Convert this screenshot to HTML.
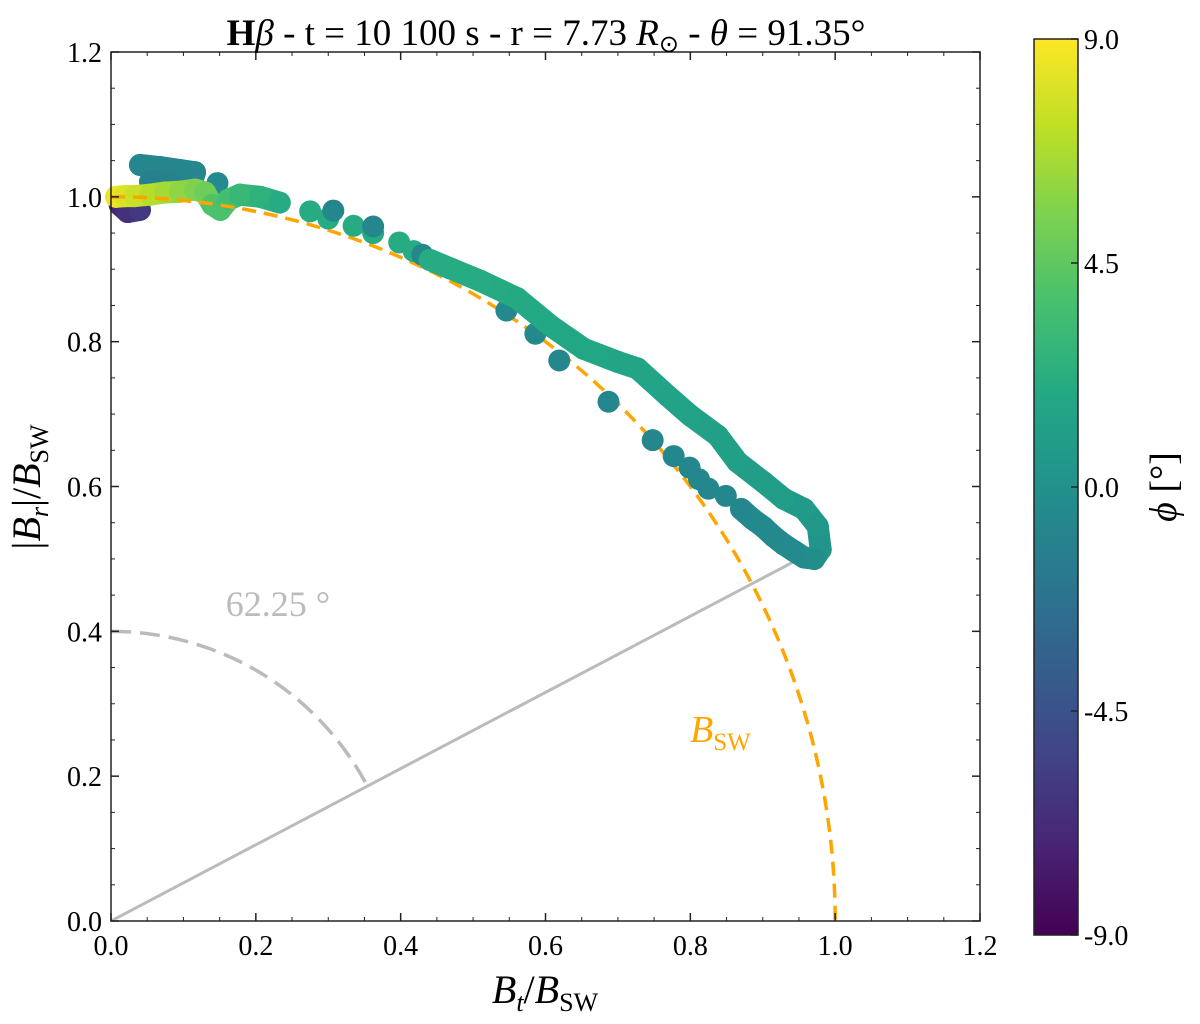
<!DOCTYPE html>
<html><head><meta charset="utf-8"><style>
body{margin:0;background:#fff;width:1200px;height:1019px;overflow:hidden}
svg text{font-family:"Liberation Serif",serif}
</style></head><body>
<svg id="chart" width="1200" height="1019" viewBox="0 0 1200 1019">
<defs><linearGradient id="vg" x1="0" y1="1" x2="0" y2="0">
<stop offset="0" stop-color="#440154"/><stop offset="0.1" stop-color="#482475"/><stop offset="0.2" stop-color="#414487"/><stop offset="0.3" stop-color="#355f8d"/><stop offset="0.4" stop-color="#2a788e"/><stop offset="0.5" stop-color="#21918c"/><stop offset="0.6" stop-color="#22a884"/><stop offset="0.7" stop-color="#44bf70"/><stop offset="0.8" stop-color="#7ad151"/><stop offset="0.9" stop-color="#bddf26"/><stop offset="1" stop-color="#fde725"/></linearGradient></defs>
<g id="plot"></g>
<text x="546" y="45" font-size="37" text-anchor="middle"><tspan font-weight="bold">H</tspan><tspan font-style="italic">β</tspan> - t = 10 100 s - r = 7.73 <tspan font-style="italic">R</tspan><tspan font-size="24" dy="7">⊙</tspan><tspan dy="-7"> - </tspan><tspan font-style="italic">θ</tspan> = 91.35°</text>
<text x="545" y="1003" font-size="40" text-anchor="middle"><tspan font-style="italic">B</tspan><tspan font-style="italic" font-size="26" dy="8">t</tspan><tspan dy="-8">/</tspan><tspan font-style="italic">B</tspan><tspan font-size="26" dy="8">SW</tspan></text>
<text transform="translate(40,487) rotate(-90)" font-size="40" text-anchor="middle">|<tspan font-style="italic">B</tspan><tspan font-style="italic" font-size="26" dy="8">r</tspan><tspan dy="-8">|/</tspan><tspan font-style="italic">B</tspan><tspan font-size="26" dy="8">SW</tspan></text>
<rect x="1034" y="39" width="44" height="896" fill="url(#vg)" stroke="#222" stroke-width="1.5"/>
<text transform="translate(1176,487) rotate(-90)" font-size="38" text-anchor="middle"><tspan font-style="italic">ϕ</tspan> [°]</text>
<g id="cbticks"></g>
</svg>
<script>
const xTicks=[0.0,0.2,0.4,0.6,0.8,1.0,1.2];
const yTicks=[0.0,0.2,0.4,0.6,0.8,1.0,1.2];
const cbTicks=[9.0,4.5,0.0,-4.5,-9.0];
// path: x, y, phi
const startX=[0.012,0.023,0.040,0.007,0.019,0.033,0.054,0.075,0.095,0.116,0.130,0.140,0.151,0.162,0.178,0.206,0.233];
const startY=[0.989,0.979,0.982,1.000,1.001,1.001,1.003,1.006,1.007,1.010,1.006,0.989,0.982,0.996,1.003,1.000,0.992];
const startP=[-7,-6.5,-6,8.5,8,7.5,7,6.5,6,5.5,5,4,3.8,3.5,3,2.5,2];
const topX=[0.040,0.068,0.095,0.116,0.113];
const topY=[1.044,1.041,1.037,1.034,1.024];
const topP=[-0.8,-0.8,-0.8,-0.8,-0.8];
const midX=[0.054,0.081,0.113];
const midY=[1.021,1.023,1.024];
const midP=[-1.2,-1.0,-0.9];
const upX=[0.440,0.469,0.510,0.561,0.607,0.653,0.700,0.727,0.769,0.800,0.838,0.865,0.901,0.929,0.957,0.976,0.980,0.971];
const upY=[0.913,0.901,0.884,0.860,0.822,0.790,0.772,0.763,0.725,0.698,0.670,0.634,0.606,0.583,0.569,0.545,0.513,0.500];
const upP=[2,2,2,1.9,1.8,1.7,1.6,1.5,1.4,1.3,1.2,1.1,1.0,0.9,0.7,0.5,0.2,-0.2];
const lowX=[0.971,0.957,0.943,0.929,0.915,0.901,0.886,0.870];
const lowY=[0.500,0.502,0.511,0.520,0.531,0.544,0.555,0.569];
const lowP=[-0.2,-0.4,-0.5,-0.5,-0.6,-0.6,-0.6,-0.7];
const dotX=[0.275,0.300,0.335,0.362,0.398,0.418,0.147,0.307,0.362,0.430,0.546,0.586,0.619,0.687,0.748,0.777,0.799,0.812,0.825,0.849];
const dotY=[0.980,0.970,0.960,0.950,0.937,0.925,1.019,0.981,0.959,0.920,0.843,0.811,0.774,0.717,0.664,0.642,0.626,0.610,0.597,0.587];
const dotP=[2,2,2,2,2,2,-0.5,-0.8,-0.8,-0.8,-0.6,-0.6,-0.7,-0.7,-0.7,-0.7,-0.7,-0.7,-0.7,-0.7];
const angleDeg=62.25, arcR=0.4, lineEndX=0.98;

const X0=111,X1=980,Y0=921,Y1=52;
const sx=v=>X0+v/1.2*(X1-X0), sy=v=>Y0-v/1.2*(Y0-Y1);
const CB0=935,CB1=39, cy=v=>CB0-(v+9)/18*(CB0-CB1);
const vs=[[68,1,84],[72,36,117],[65,68,135],[53,95,141],[42,120,142],[33,145,140],[34,168,132],[68,191,112],[122,209,81],[189,223,38],[253,231,37]];
function vir(p){let t=Math.max(0,Math.min(1,(p+9)/18))*10,i=Math.min(9,Math.floor(t)),f=t-i;const a=vs[i],b=vs[i+1];return `rgb(${a.map((c,k)=>Math.round(c+(b[k]-c)*f)).join(',')})`;}
const NS='http://www.w3.org/2000/svg';
const g=document.getElementById('plot');
function mk(tag,at,parent){const e=document.createElementNS(NS,tag);for(const k in at)e.setAttribute(k,at[k]);(parent||g).appendChild(e);return e;}
mk('rect',{x:X0,y:Y1,width:X1-X0,height:Y0-Y1,fill:'#fff'});
let e=mk('line',{x1:sx(0),y1:sy(0),x2:sx(lineEndX),y2:sy(lineEndX*Math.tan((90-angleDeg)*Math.PI/180)),stroke:'#bbb','stroke-width':3});


let a1=(90-angleDeg)*Math.PI/180;
e=mk('path',{d:`M${sx(0)},${sy(arcR)} A${sx(arcR)-sx(0)},${sy(0)-sy(arcR)} 0 0 1 ${sx(arcR*Math.cos(a1))},${sy(arcR*Math.sin(a1))}`,fill:'none',stroke:'#bbb','stroke-width':3.5,'stroke-dasharray':'20,9'});


e=mk('text',{x:278,y:616,'font-size':36,fill:'#bbb','text-anchor':'middle'});e.textContent=angleDeg.toFixed(2)+' °';


e=mk('path',{d:`M${sx(0)},${sy(1)} A${sx(1)-sx(0)},${sy(0)-sy(1)} 0 0 1 ${sx(1)},${sy(0)}`,fill:'none',stroke:'#ffa500','stroke-width':3.5,'stroke-dasharray':'14,8'});


e=mk('text',{x:690,y:742,'font-size':38,fill:'#ffa500'});e.innerHTML='<tspan font-style="italic">B</tspan><tspan font-size="25" dy="8">SW</tspan>';


const R=11;
function series(xs,ys,ps,name,connect){
  const sg=mk('g',{});
  
  
  if(connect){for(let i=0;i<xs.length-1;i++){const l=mk('line',{x1:sx(xs[i]),y1:sy(ys[i]),x2:sx(xs[i+1]),y2:sy(ys[i+1]),stroke:vir((ps[i]+ps[i+1])/2),'stroke-width':2*R,'stroke-linecap':'round'},sg);
    
    }}
  for(let i=0;i<xs.length;i++){const c=mk('circle',{cx:sx(xs[i]),cy:sy(ys[i]),r:R,fill:vir(ps[i])},sg);
    
    }
}
series(topX,topY,topP,'top-branch',true);
series(midX,midY,midP,'mid-branch',true);
series(dotX,dotY,dotP,'scatter-points',false);
series(lowX,lowY,lowP,'lower-branch',true);
series(upX,upY,upP,'upper-branch',true);
series(startX.slice(0,3),startY.slice(0,3),startP.slice(0,3),'start-blob',true);
series(startX.slice(3),startY.slice(3),startP.slice(3),'start-path',true);
e=mk('path',{d:`M${sx(0)},${sy(1)} A${sx(1)-sx(0)},${sy(0)-sy(1)} 0 0 1 ${sx(Math.cos(1.35))},${sy(Math.sin(1.35))}`,fill:'none',stroke:'#ffa500','stroke-width':3.5,'stroke-dasharray':'14,8'});


mk('rect',{x:X0,y:Y1,width:X1-X0,height:Y0-Y1,fill:'none',stroke:'#222','stroke-width':1.5});
xTicks.forEach((t,i)=>{const x=sx(t);mk('line',{x1:x,y1:Y0,x2:x,y2:Y0-8,stroke:'#222','stroke-width':1.5});mk('line',{x1:x,y1:Y1,x2:x,y2:Y1+8,stroke:'#222','stroke-width':1.5});
 if(i<xTicks.length-1)for(let k=1;k<4;k++){const xm=sx(t+0.05*k);mk('line',{x1:xm,y1:Y0,x2:xm,y2:Y0-4,stroke:'#222'});mk('line',{x1:xm,y1:Y1,x2:xm,y2:Y1+4,stroke:'#222'});}
 const tx=mk('text',{x:x,y:Y0+34,'font-size':28,'text-anchor':'middle'});tx.textContent=t.toFixed(1);
 
 });
yTicks.forEach((t,i)=>{const y=sy(t);mk('line',{x1:X0,y1:y,x2:X0+8,y2:y,stroke:'#222','stroke-width':1.5});mk('line',{x1:X1,y1:y,x2:X1-8,y2:y,stroke:'#222','stroke-width':1.5});
 if(i<yTicks.length-1)for(let k=1;k<4;k++){const ym=sy(t+0.05*k);mk('line',{x1:X0,y1:ym,x2:X0+4,y2:ym,stroke:'#222'});mk('line',{x1:X1,y1:ym,x2:X1-4,y2:ym,stroke:'#222'});}
 const tx=mk('text',{x:X0-9,y:y+10,'font-size':28,'text-anchor':'end'});tx.textContent=t.toFixed(1);
 
 });
const cg=document.getElementById('cbticks');
cbTicks.forEach(t=>{const y=cy(t);mk('line',{x1:1071,y1:y,x2:1078,y2:y,stroke:'#222','stroke-width':1.5},cg);
 const tx=mk('text',{x:1084,y:y+10,'font-size':28},cg);tx.textContent=t.toFixed(1);
 
 });
</script>
</body></html>
